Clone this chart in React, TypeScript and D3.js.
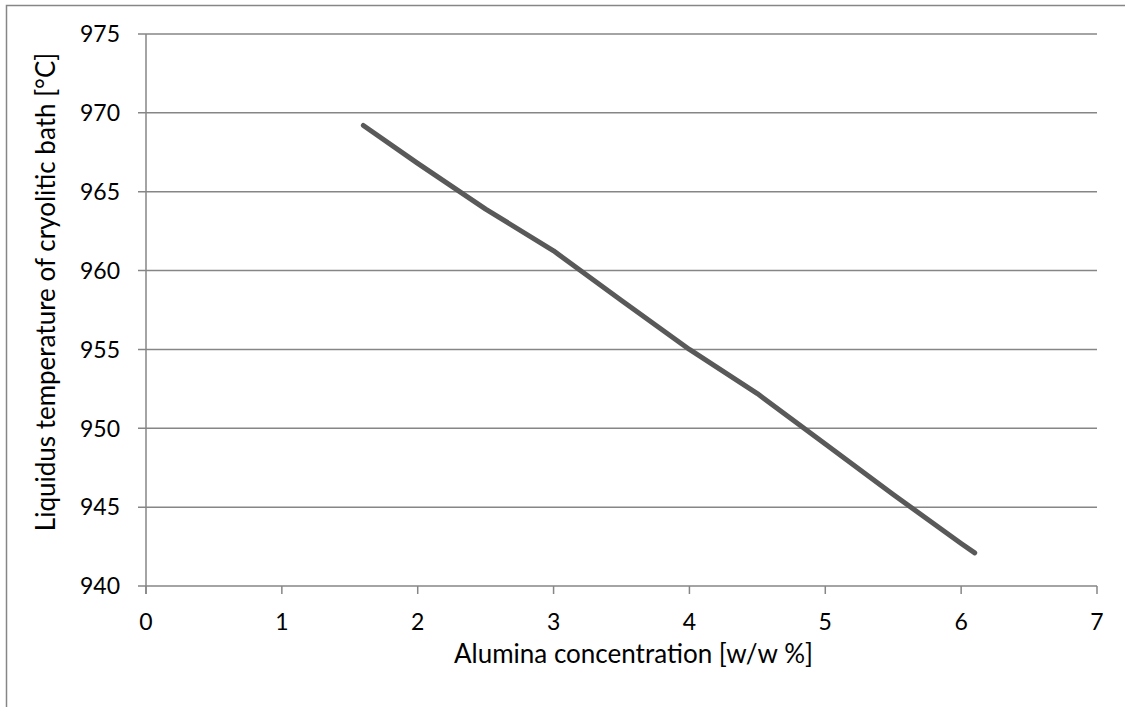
import React from "react";
import * as d3 from "d3";

const alumina = [1.6, 2, 2.5, 3, 3.5, 4, 4.5, 5, 5.5, 6, 6.1];
const liquidus = [969.2, 966.8, 963.9, 961.25, 958.1, 955.0, 952.2, 949.0, 945.8, 942.7, 942.1];
const xTicks = [0, 1, 2, 3, 4, 5, 6, 7];
const yTicks = [940, 945, 950, 955, 960, 965, 970, 975];
const xTitle = "Alumina concentration [w/w %]";
const yTitle = "Liquidus temperature of cryolitic bath [°C]";

const W = 1125;
const H = 707;
const left = 146;
const right = 1097;
const top = 34;
const bottom = 586;
const font = "Lato, 'Open Sans', sans-serif";
const gridColor = "#868686";

export default function App() {
  const x = d3.scaleLinear().domain([0, 7]).range([left, right]);
  const y = d3.scaleLinear().domain([940, 975]).range([bottom, top]);
  const pts = alumina.map((a, i) => [a, liquidus[i]] as [number, number]);
  const line = d3
    .line<[number, number]>()
    .x((d) => x(d[0]))
    .y((d) => y(d[1]));

  return (
    <svg
      width={W}
      height={H}
      style={{ position: "fixed", left: 0, top: 0, background: "#fff" }}
    >
      <rect x={0} y={0} width={W} height={H} fill="#fff" />
      <rect x={6.5} y={5.5} width={W + 10} height={H + 10} fill="none" stroke="#868686" strokeWidth={1.5} />
      {yTicks.map((t) => (
        <g key={"y" + t}>
          <line x1={left - 8} x2={right} y1={y(t)} y2={y(t)} stroke={gridColor} strokeWidth={1.5} />
          <text
            x={120}
            y={y(t) + 8.3}
            textAnchor="end"
            fontFamily={font}
            fontSize={23}
            fill="#000"
          >
            {t}
          </text>
        </g>
      ))}
      <line x1={left} x2={left} y1={top} y2={bottom + 8} stroke={gridColor} strokeWidth={1.5} />
      {xTicks.map((t) => (
        <g key={"x" + t}>
          <line x1={x(t)} x2={x(t)} y1={bottom} y2={bottom + 8} stroke={gridColor} strokeWidth={1.5} />
          <text
            x={x(t)}
            y={630}
            textAnchor="middle"
            fontFamily={font}
            fontSize={23}
            fill="#000"
          >
            {t}
          </text>
        </g>
      ))}
      <path d={line(pts) || ""} fill="none" stroke="#595959" strokeWidth={5} strokeLinecap="round" strokeLinejoin="round" />
      <text
        x={633.5}
        y={663}
        textAnchor="middle"
        fontFamily={font}
        fontSize={26}
        fill="#000"
      >
        {xTitle}
      </text>
      <text
        transform={`translate(55, 292) rotate(-90)`}
        textAnchor="middle"
        fontFamily={font}
        fontSize={26}
        fill="#000"
      >
        {yTitle}
      </text>
    </svg>
  );
}
